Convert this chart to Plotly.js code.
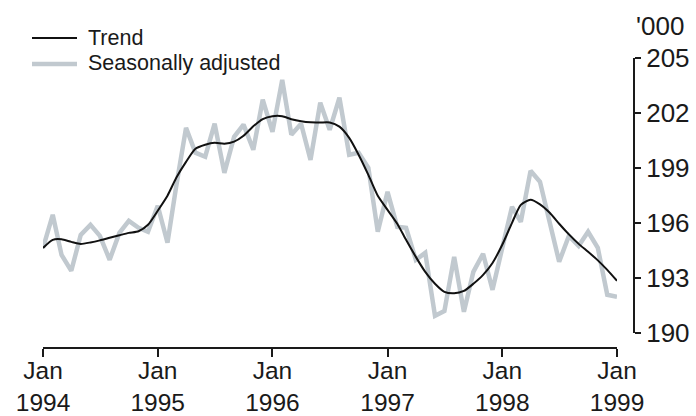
<!DOCTYPE html>
<html>
<head>
<meta charset="utf-8">
<script src="https://cdn.plot.ly/plotly-3.0.1.min.js"></script>
<style>
  html, body { margin: 0; padding: 0; background: #ffffff; }
  #chart { width: 696px; height: 416px; }
</style>
</head>
<body>
<div id="chart"></div>
<script>
// Monthly observations, Jan 1994 to Jan 1999 ('000)
const startYear = 1994;
const monthCount = 61;

const seasonallyAdjusted = [
  194.63, 196.44, 194.25, 193.38, 195.34, 195.89, 195.29, 193.98, 195.45, 196.11, 195.73, 195.51,
  196.93, 194.91, 198.02, 201.19, 199.83, 199.61, 201.41, 198.73, 200.70, 201.36, 199.99, 202.72,
  200.97, 203.81, 200.81, 201.41, 199.44, 202.56, 201.08, 202.83, 199.72, 199.83, 199.01, 195.51,
  197.69, 195.78, 195.73, 193.98, 194.36, 190.92, 191.19, 194.14, 191.14, 193.32, 194.31, 192.34,
  194.63, 196.87, 196.05, 198.84, 198.24, 196.05, 193.87, 195.29, 194.74, 195.51, 194.63, 192.07,
  191.96
];

const trend = [
  194.63, 195.07, 195.10, 194.96, 194.85, 194.93, 195.04, 195.18, 195.32, 195.45, 195.54, 195.89,
  196.66, 197.48, 198.46, 199.33, 200.04, 200.26, 200.37, 200.32, 200.43, 200.75, 201.27, 201.66,
  201.82, 201.82, 201.66, 201.55, 201.49, 201.48, 201.48, 201.25, 200.64, 199.72, 198.62, 197.48,
  196.71, 195.95, 195.07, 194.14, 193.32, 192.67, 192.23, 192.15, 192.28, 192.67, 193.16, 193.81,
  194.80, 196.00, 196.98, 197.26, 197.01, 196.55, 195.95, 195.37, 194.85, 194.42, 193.95, 193.43,
  192.83
];

const xTickVals = ['1994-01-01', '1995-01-01', '1996-01-01', '1997-01-01', '1998-01-01', '1999-01-01'];
const xTickText = ['Jan<br>1994', 'Jan<br>1995', 'Jan<br>1996', 'Jan<br>1997', 'Jan<br>1998', 'Jan<br>1999'];
const yTickVals = [190, 193, 196, 199, 202, 205];
const yTickText = ['190', '193', '196', '199', '202', '205'];
const seriesNames = ['Trend', 'Seasonally adjusted'];
const unitLabel = "'000";

// month dates
const months = [];
for (let i = 0; i < monthCount; i++) {
  const y = startYear + Math.floor(i / 12);
  const m = (i % 12) + 1;
  months.push(y + '-' + (m < 10 ? '0' + m : m) + '-01');
}

const GREY = '#c1c9cf';
const FONT = 'Liberation Sans, Arial, sans-serif';

// pixel helpers for the plot frame
const L = 43, T = 58, W = 591, H = 290;
const px = p => (p - L) / W;
const py = p => (T + H - p) / H;

const traces = [
  {
    x: months, y: seasonallyAdjusted, type: 'scatter', mode: 'lines',
    name: seriesNames[1], line: { color: GREY, width: 4.5 }, showlegend: false, hoverinfo: 'skip'
  },
  {
    x: months, y: trend, type: 'scatter', mode: 'lines',
    name: seriesNames[0], line: { color: '#111111', width: 2, shape: 'spline', smoothing: 0.6 }, showlegend: false, hoverinfo: 'skip'
  }
];

const layout = {
  width: 696, height: 416,
  margin: { l: L, r: 696 - L - W, t: T, b: 416 - T - H, pad: 0 },
  paper_bgcolor: '#ffffff', plot_bgcolor: '#ffffff',
  font: { family: FONT, size: 26, color: '#1a1a1a' },
  showlegend: false,
  xaxis: {
    type: 'date',
    domain: [0, 574 / W],
    range: ['1994-01-01', '1999-01-01'],
    anchor: 'free', position: 0,
    showgrid: false, zeroline: false,
    showline: true, linecolor: '#1a1a1a', linewidth: 2,
    ticks: 'outside', ticklen: 8, tickwidth: 2, tickcolor: '#1a1a1a',
    ticklabelstandoff: -7,
    tickmode: 'array', tickvals: xTickVals, ticktext: xTickText,
    tickfont: { family: FONT, size: 24.5, color: '#1a1a1a' }
  },
  yaxis: {
    domain: [(T + H - 332.7) / H, 1],
    range: [190, 205],
    side: 'right', anchor: 'free', position: 1,
    showgrid: false, zeroline: false,
    showline: true, linecolor: '#1a1a1a', linewidth: 2,
    ticks: 'outside', ticklen: 6, tickwidth: 2, tickcolor: '#1a1a1a',
    tickmode: 'array', tickvals: yTickVals, ticktext: yTickText,
    tickfont: { family: FONT, size: 26, color: '#1a1a1a' }
  },
  shapes: [
    { type: 'line', xref: 'paper', yref: 'paper', x0: px(32), x1: px(77), y0: py(38), y1: py(38),
      line: { color: '#111111', width: 2 } },
    { type: 'line', xref: 'paper', yref: 'paper', x0: px(32), x1: px(77), y0: py(64), y1: py(64),
      line: { color: GREY, width: 4.5 } }
  ],
  annotations: [
    { xref: 'paper', yref: 'paper', x: px(86), y: py(38), xanchor: 'left', yanchor: 'middle',
      text: seriesNames[0], showarrow: false, font: { family: FONT, size: 21.5, color: '#1a1a1a' } },
    { xref: 'paper', yref: 'paper', x: px(86), y: py(63), xanchor: 'left', yanchor: 'middle',
      text: seriesNames[1], showarrow: false, font: { family: FONT, size: 21.5, color: '#1a1a1a' } },
    { xref: 'paper', yref: 'paper', x: px(634), y: py(26), xanchor: 'left', yanchor: 'middle',
      text: unitLabel, showarrow: false, font: { family: FONT, size: 26, color: '#1a1a1a' } }
  ]
};

Plotly.newPlot('chart', traces, layout, { displayModeBar: false, staticPlot: true });
</script>
</body>
</html>
